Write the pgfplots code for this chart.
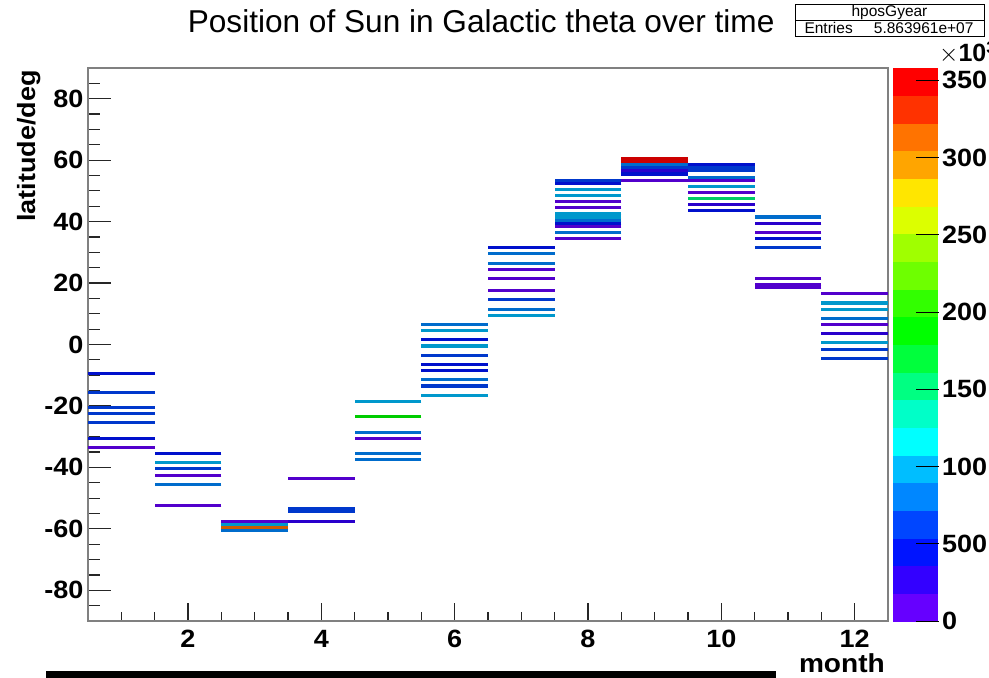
\documentclass[border=0pt]{standalone}
\usepackage{pgfplots}
\pgfplotsset{compat=1.18}
\usepackage{fontspec}
\setmainfont{Liberation Sans}
\newfontfamily\widefont{Liberation Sans}[FakeStretch=1.08]

\definecolor{framegray}{gray}{0.5}
\newcommand{\lab}{\fontsize{25}{25}\selectfont\widefont\bfseries}

% ROOT rainbow palette, 20 contour levels
\pgfplotsset{
  colormap={rootpal}{
    rgb255=(102,0,255) rgb255=(51,0,255) rgb255=(0,20,255) rgb255=(0,70,255)
    rgb255=(0,135,255) rgb255=(0,190,255) rgb255=(0,255,255) rgb255=(0,255,200)
    rgb255=(0,255,130) rgb255=(0,255,60) rgb255=(0,255,0) rgb255=(50,255,0)
    rgb255=(110,255,0) rgb255=(160,255,0) rgb255=(220,255,0) rgb255=(255,230,0)
    rgb255=(255,165,0) rgb255=(255,115,0) rgb255=(255,50,0) rgb255=(255,0,0)
  },
}

% month, bin centre (deg), content (x10^3)
\pgfplotstableread{
m lat c
1 -9.5 45
1 -15.5 63
1 -20.5 63
1 -22.5 63
1 -25.5 63
1 -30.5 45
1 -33.5 9
2 -35.5 45
2 -38.5 98
2 -40.5 63
2 -42.5 9
2 -45.5 81
2 -52.5 9
3 -57.5 9
3 -58.5 98
3 -59.5 313
3 -60.5 81
4 -43.5 9
4 -53.5 63
4 -54.5 63
4 -57.5 27
5 -18.5 98
5 -23.5 188
5 -28.5 81
5 -30.5 9
5 -35.5 81
5 -37.5 81
6 6.5 81
6 4.5 98
6 1.5 45
6 -0.5 98
6 -3.5 63
6 -6.5 45
6 -8.5 45
6 -11.5 81
6 -13.5 63
6 -16.5 98
7 31.5 45
7 29.5 81
7 26.5 81
7 24.5 9
7 21.5 9
7 17.5 9
7 14.5 63
7 11.5 81
7 9.5 98
8 53.5 63
8 52.5 45
8 50.5 98
8 48.5 98
8 46.5 9
8 44.5 9
8 42.5 98
8 41.5 98
8 40.5 81
8 39.5 45
8 38.5 9
8 36.5 81
8 34.5 9
9 60.5 349
9 59.5 349
9 58.5 81
9 57.5 63
9 56.5 27
9 55.5 45
9 53.5 9
10 58.5 45
10 57.5 63
10 56.5 63
10 54.5 81
10 53.5 9
10 51.5 98
10 49.5 9
10 47.5 152
10 45.5 27
10 43.5 45
11 41.5 81
11 39.5 27
11 36.5 9
11 34.5 45
11 31.5 63
11 21.5 9
11 19.5 9
11 18.5 9
12 16.5 9
12 13.5 98
12 11.5 98
12 8.5 81
12 6.5 9
12 3.5 27
12 0.5 98
12 -1.5 63
12 -4.5 63
}\sunpos

\begin{document}
\begin{tikzpicture}[x=1pt,y=1pt]
\path[use as bounding box] (0,0) rectangle (989,678);

\begin{axis}[
  at={(88pt,57pt)}, anchor=south west,
  scale only axis, width=800pt, height=553pt,
  xmin=0.5, xmax=12.5, ymin=-90, ymax=90,
  xtick={2,4,...,12}, minor xtick={1,1.5,...,12},
  ytick={-80,-60,...,80}, minor ytick={-85,-80,...,85},
  tick pos=left, tick align=inside,
  major tick length=23pt, minor tick length=12pt,
  xtick style={/pgfplots/major tick length=18pt, /pgfplots/minor tick length=9pt},
  tick style={black!85, line width=1.2pt},
  axis line style={framegray, line width=1.3pt},
  /pgf/number format/assume math mode=true,
  ticklabel style={font=\lab},
  xticklabel style={yshift=-6pt},
  yticklabel style={xshift=-1pt},
  colormap name=rootpal,
  colormap access=piecewise constant,
  point meta min=0, point meta max=358,
  colorbar,
  colorbar style={
    at={(parent axis.north east)}, anchor=north west, xshift=-4pt,
    scale only axis, width=46pt, height=553pt,
    xtick=\empty,
    ytick={0,50,...,350},
    yticklabels={0,500,100,150,200,250,300,350},
    ytick pos=right, tick align=inside,
    major tick length=23pt,
    ytick style={black, line width=1pt},
    axis line style={draw=none},
    yticklabel style={font=\lab, xshift=0pt},
  },
]
\addplot[scatter, only marks, mark=-, mark size=33.333pt,
  point meta=explicit, mark options={line width=3.072pt}]
  table[x=m, y=lat, meta=c] {\sunpos};
\end{axis}

% title and stats box
\node[anchor=base east, font=\fontsize{31.6}{31.6}\selectfont] at (778,645)
  {Position of Sun in Galactic theta over time};
\draw[line width=0.8pt] (795,642) rectangle (984,674);
\draw[line width=0.8pt] (795,658) -- (984,658);
\node[font=\fontsize{15.5}{15.5}\selectfont] at (889.5,666) {hposGyear};
\node[anchor=west, font=\fontsize{15.5}{15.5}\selectfont] at (801,650) {Entries};
\node[anchor=east, font=\fontsize{15.5}{15.5}\selectfont] at (977,650) {5.863961e+07};

% colour scale exponent
\node[anchor=west, inner sep=0pt, font=\fontsize{25}{25}\selectfont] at (939,625)
  {$\times$\textbf{10}\raisebox{8pt}{\fontsize{17}{17}\selectfont\bfseries 3}};

% axis labels
\node[rotate=90, anchor=base east, inner sep=0pt, font=\lab] at (35,608) {latitude/deg};
\node[anchor=base east, inner sep=0pt, font=\fontsize{26}{26}\selectfont\widefont\bfseries] at (885,5) {month};

% black bar at the bottom edge
\fill[black] (46,0) rectangle (776,7);
\end{tikzpicture}
\end{document}
